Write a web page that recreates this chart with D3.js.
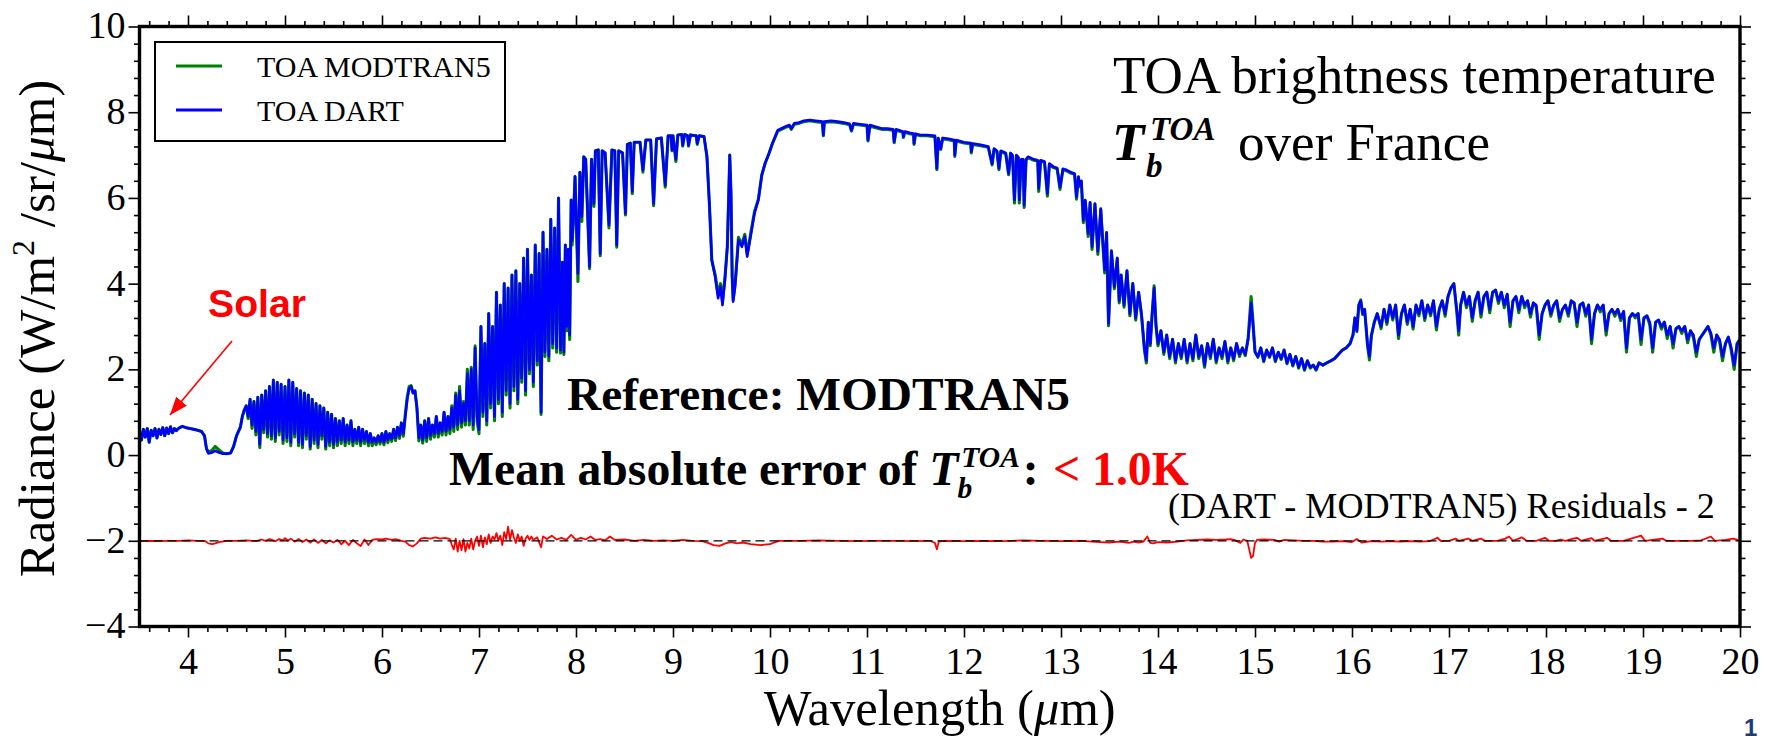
<!DOCTYPE html>
<html><head><meta charset="utf-8">
<script src="https://cdn.jsdelivr.net/npm/d3@7"></script>
<style>body{margin:0;background:#fff}svg{display:block}</style>
</head><body>
<svg id="c" width="1767" height="743"></svg>
<script>
// ---------- DATA ----------
const xTicks = [4,5,6,7,8,9,10,11,12,13,14,15,16,17,18,19,20];
const xTickLabels = ["4","5","6","7","8","9","10","11","12","13","14","15","16","17","18","19","20"];
const yTicks = [-4,-2,0,2,4,6,8,10];
const yTickLabels = ["\u22124","\u22122","0","2","4","6","8","10"];
const seriesNames = ["TOA MODTRAN5","TOA DART"];
const residualOffset = -2;

const dartSpectrum = [
[3.50,0.55],[3.52,0.35],[3.54,0.60],[3.56,0.42],[3.58,0.62],[3.60,0.30],[3.62,0.58],[3.64,0.45],[3.66,0.62],[3.68,0.40],[3.70,0.60],[3.72,0.48],[3.74,0.64],[3.76,0.45],[3.78,0.63],[3.80,0.50],[3.82,0.66],[3.84,0.52],[3.86,0.62],[3.88,0.57],[3.90,0.62],[3.94,0.67],[3.98,0.64],[4.02,0.62],[4.06,0.60],[4.10,0.58],[4.14,0.55],[4.17,0.45],[4.19,0.15],[4.21,0.04],[4.25,0.06],[4.28,0.10],[4.32,0.06],[4.36,0.03],[4.40,0.03],[4.44,0.05],[4.47,0.20],[4.50,0.45],[4.52,0.55],[4.54,0.65],[4.56,0.90],[4.58,1.05],[4.60,1.15],
[4.62,0.90],[4.64,1.30],[4.66,0.70],[4.68,1.25],[4.70,0.55],[4.72,1.35],[4.74,0.25],[4.76,1.40],[4.78,0.60],[4.80,1.50],[4.82,0.50],[4.84,1.60],[4.86,0.45],[4.88,1.75],[4.90,0.40],[4.92,1.70],[4.94,0.55],[4.96,1.65],[4.98,0.35],[5.00,1.60],[5.02,0.40],[5.04,1.75],[5.06,0.30],[5.08,1.70],[5.10,0.50],[5.12,1.55],[5.14,0.30],[5.16,1.50],[5.18,0.25],[5.20,1.45],[5.22,0.45],[5.24,1.40],[5.26,0.20],[5.28,1.30],[5.30,0.35],[5.32,1.20],[5.34,0.25],[5.36,1.15],[5.38,0.45],[5.40,1.10],[5.42,0.20],[5.44,1.00],[5.46,0.30],[5.48,0.95],[5.50,0.25],[5.52,0.85],[5.54,0.30],[5.56,0.80],[5.58,0.35],[5.60,0.85],[5.62,0.30],[5.64,0.70],[5.66,0.35],[5.68,0.80],[5.70,0.30],[5.72,0.60],[5.74,0.35],[5.76,0.65],[5.78,0.30],[5.80,0.60],[5.82,0.35],[5.84,0.55],[5.86,0.30],[5.88,0.50],[5.90,0.30],
[5.92,0.40],[5.94,0.30],[5.96,0.45],[5.98,0.32],[6.00,0.50],[6.02,0.30],[6.04,0.55],[6.06,0.35],[6.08,0.50],[6.10,0.38],[6.12,0.60],[6.14,0.40],[6.16,0.65],[6.18,0.45],[6.20,0.75],[6.22,0.50],[6.24,0.90],[6.26,1.30],[6.28,1.55],[6.30,1.60],[6.32,1.45],[6.34,1.50],[6.36,1.10],[6.38,0.40],[6.40,0.70],[6.42,0.35],[6.44,0.80],[6.46,0.40],[6.48,0.85],[6.50,0.45],[6.52,0.70],[6.54,0.50],[6.56,0.90],[6.58,0.50],[6.60,0.75],[6.62,0.55],[6.64,1.00],[6.66,0.55],[6.68,0.90],[6.70,0.60],[6.72,1.10],[6.74,0.65],[6.76,1.40],[6.78,0.70],[6.80,1.50],[6.82,0.75],[6.84,1.20],[6.86,0.80],[6.88,1.90],[6.90,0.80],[6.92,2.00],[6.94,0.70],[6.96,2.50],[6.98,0.90],
[7.00,0.60],[7.02,3.00],[7.04,1.00],[7.06,2.60],[7.08,0.80],[7.10,3.30],[7.12,1.20],[7.14,3.00],[7.16,0.90],[7.18,3.80],[7.20,1.30],[7.22,3.50],[7.24,1.00],[7.26,4.00],[7.28,1.50],[7.30,3.90],[7.32,1.20],[7.34,4.20],[7.36,1.60],[7.38,4.30],[7.40,1.30],[7.42,4.00],[7.44,1.80],[7.46,4.60],[7.48,1.50],[7.50,4.80],[7.52,2.00],[7.54,4.20],[7.56,1.70],[7.58,4.90],[7.60,2.20],[7.62,4.70],[7.64,1.00],[7.66,5.20],[7.68,2.40],[7.70,4.80],[7.72,2.30],[7.74,5.50],[7.76,2.60],[7.78,5.30],[7.80,2.50],[7.82,6.00],[7.84,2.45],
[7.86,4.50],[7.875,2.40],[7.89,4.90],[7.905,3.00],[7.92,4.80],[7.935,2.80],[7.95,5.95],[7.96,5.00],[7.975,5.60],[7.99,6.50],[8.02,4.24],[8.04,6.60],[8.06,5.56],[8.08,6.96],[8.10,6.90],[8.14,4.40],[8.16,6.90],[8.185,5.87],[8.20,7.10],[8.23,7.12],[8.25,4.70],[8.27,7.10],[8.30,7.05],[8.34,5.37],[8.37,7.12],[8.40,7.10],[8.42,4.90],[8.44,7.10],[8.48,7.05],[8.51,5.64],[8.53,7.25],[8.56,7.28],[8.58,6.15],[8.60,7.30],[8.66,7.30],[8.69,6.65],[8.72,7.35],[8.77,7.35],[8.80,5.87],[8.83,7.38],[8.88,7.40],[8.92,6.30],[8.95,7.45],[8.98,7.45],[8.99,7.12],[9.00,7.45],[9.03,6.90],[9.05,7.47],[9.09,7.48],[9.10,7.23],[9.12,7.48],[9.15,7.45],[9.16,7.23],[9.18,7.47],[9.24,7.45],[9.25,7.27],[9.27,7.45],[9.32,7.43],[9.35,6.96],[9.375,5.87],[9.40,4.55],[9.435,4.16],[9.465,3.66],[9.49,3.93],[9.51,3.50],[9.535,4.08],[9.56,4.86],[9.575,6.10],[9.585,7.00],[9.598,6.10],[9.61,4.16],[9.62,3.58],[9.64,3.93],[9.66,4.55],[9.675,5.02],[9.71,4.86],[9.74,5.10],[9.765,4.63],[9.805,5.17],[9.84,5.64],[9.88,5.95],[9.915,6.53],[9.95,6.81],[9.99,7.04],[10.025,7.27],[10.08,7.58],[10.155,7.66],[10.20,7.70],[10.22,7.62],[10.25,7.74],[10.30,7.76],[10.35,7.80],[10.41,7.82],[10.47,7.80],[10.54,7.78],[10.55,7.47],[10.56,7.78],[10.63,7.80],[10.70,7.78],[10.76,7.76],
[10.82,7.73],[10.84,7.58],[10.86,7.74],[10.93,7.72],[11.00,7.70],[11.01,7.35],[11.03,7.70],[11.09,7.66],[11.15,7.62],[11.21,7.62],[11.27,7.60],[11.28,7.31],[11.30,7.60],[11.37,7.55],[11.375,7.43],[11.39,7.55],[11.44,7.52],[11.48,7.50],[11.485,7.27],[11.50,7.50],[11.55,7.47],[11.62,7.47],[11.70,7.45],[11.72,6.69],[11.735,7.40],[11.76,7.15],[11.78,7.40],[11.84,7.38],[11.90,7.35],[11.905,7.00],[11.92,7.35],[12.00,7.30],[12.07,7.28],[12.075,7.08],[12.09,7.27],[12.17,7.24],[12.25,7.20],[12.29,6.80],[12.31,7.15],[12.34,7.10],[12.36,6.69],[12.38,7.10],[12.43,7.05],[12.46,6.57],[12.48,7.05],[12.50,7.00],[12.52,5.95],[12.54,7.00],[12.56,6.95],[12.57,5.95],[12.59,6.90],[12.61,6.90],[12.62,5.83],[12.64,6.90],[12.66,6.96],[12.72,6.90],[12.76,6.88],[12.77,6.22],[12.79,6.88],[12.83,6.85],[12.86,6.10],[12.88,6.80],[12.92,6.73],[12.96,6.70],[12.99,6.25],[13.02,6.68],[13.06,6.65],[13.10,6.60],[13.14,6.57],[13.16,6.03],[13.18,6.50],[13.19,6.30],[13.21,6.40],[13.23,5.48],[13.25,5.95],[13.28,5.17],[13.30,5.90],[13.32,4.86],[13.35,5.87],[13.38,4.75],[13.41,5.75],[13.45,4.32],[13.47,5.20],[13.49,3.07],[13.52,4.77],[13.55,3.93],[13.58,4.60],
[13.60,3.60],[13.62,4.20],[13.65,3.50],[13.68,4.30],[13.71,3.30],[13.74,4.00],[13.77,3.20],[13.80,3.80],[13.83,3.30],[13.86,2.50],[13.88,2.20],[13.90,3.10],[13.92,2.60],[13.94,3.30],[13.96,3.90],[13.98,3.00],[14.00,2.60],[14.03,2.90],[14.06,2.40],[14.09,2.80],[14.12,2.30],[14.15,2.70],[14.18,2.20],[14.21,2.60],[14.24,2.30],[14.27,2.70],[14.30,2.20],[14.33,2.60],[14.36,2.25],[14.39,2.80],[14.42,2.30],[14.45,2.55],[14.48,2.10],[14.51,2.60],[14.54,2.30],[14.57,2.70],[14.60,2.20],[14.63,2.50],[14.66,2.30],[14.69,2.65],[14.72,2.20],[14.75,2.50],[14.78,2.25],[14.81,2.60],[14.84,2.35],[14.87,2.50],[14.90,2.35],[14.93,2.70],[14.96,3.55],[14.98,3.00],[15.00,2.40],[15.03,2.30],[15.06,2.50],[15.09,2.20],[15.12,2.45],[15.15,2.30],[15.18,2.50],[15.21,2.20],[15.24,2.40],[15.27,2.25],[15.30,2.45],[15.33,2.15],[15.36,2.35],[15.39,2.10],[15.42,2.30],[15.45,2.05],[15.48,2.25],[15.51,2.00],[15.54,2.20],[15.57,2.05],[15.60,2.10],[15.63,2.00],[15.66,2.15],[15.70,2.10],[15.74,2.15],[15.78,2.20],[15.82,2.25],[15.86,2.35],[15.90,2.45],[15.94,2.50],[15.98,2.60],[16.01,2.80],[16.03,3.20],[16.05,2.90],[16.07,3.50],[16.09,3.60],[16.11,3.30],[16.13,3.40],[16.16,2.60],[16.18,2.30],[16.20,2.80],[16.23,3.10],[16.26,3.30],
[16.30,3.00],[16.33,3.40],[16.36,3.10],[16.39,3.50],[16.42,3.20],[16.45,3.50],[16.48,2.80],[16.51,3.30],[16.54,3.50],[16.57,3.10],[16.60,3.40],[16.63,3.00],[16.66,3.50],[16.69,3.30],[16.72,3.60],[16.75,3.20],[16.78,3.50],[16.81,3.30],[16.84,3.60],[16.87,3.00],[16.90,3.40],[16.93,3.60],[16.96,3.30],[16.99,3.70],[17.02,3.90],[17.05,4.00],[17.08,3.40],[17.10,2.90],[17.12,3.50],[17.15,3.80],[17.18,3.50],[17.21,3.70],[17.24,3.20],[17.27,3.60],[17.30,3.80],[17.33,3.30],[17.36,3.70],[17.39,3.80],[17.42,3.40],[17.45,3.80],[17.48,3.85],[17.51,3.60],[17.54,3.80],[17.57,3.50],[17.60,3.75],[17.63,3.10],[17.66,3.60],[17.69,3.70],[17.72,3.40],[17.75,3.70],[17.78,3.50],[17.81,3.60],[17.84,3.30],[17.87,3.55],[17.90,3.50],[17.93,2.80],[17.96,3.30],[17.99,3.50],[18.02,3.60],[18.05,3.30],[18.08,3.50],[18.11,3.60],[18.14,3.20],[18.17,3.40],[18.20,3.50],[18.23,3.30],[18.26,3.60],[18.29,3.55],[18.32,3.10],[18.35,3.50],[18.38,3.55],[18.41,3.30],[18.44,3.50],[18.47,2.70],[18.50,3.30],[18.53,3.50],[18.56,3.40],[18.59,3.50],[18.62,2.90],[18.65,3.30],[18.68,3.40],[18.71,3.30],[18.74,3.40],[18.77,3.20],[18.80,3.35],[18.83,2.50],[18.86,3.20],[18.89,3.30],[18.92,3.25],[18.95,3.30],[18.98,2.70],[19.01,3.20],[19.04,3.25],[19.07,3.10],[19.10,2.50],[19.13,3.10],[19.16,3.15],[19.19,3.00],[19.22,3.10],[19.25,2.80],[19.28,3.00],[19.31,2.60],[19.34,2.95],[19.37,3.00],[19.40,2.90],[19.43,3.00],[19.46,2.70],[19.49,2.90],[19.52,2.80],[19.55,2.40],[19.58,2.70],[19.61,2.80],[19.64,2.90],[19.67,3.00],[19.70,2.85],[19.73,2.50],[19.76,2.80],[19.79,2.70],[19.82,2.30],[19.85,2.60],[19.88,2.75],[19.91,2.50],[19.94,2.10],[19.97,2.60],[20.00,2.70]
];

const modtranSpectrum = [
[3.50,0.55],[3.52,0.35],[3.54,0.60],[3.56,0.42],[3.58,0.62],[3.60,0.30],[3.62,0.58],[3.64,0.45],[3.66,0.62],[3.68,0.40],[3.70,0.60],[3.72,0.48],[3.74,0.64],[3.76,0.45],[3.78,0.63],[3.80,0.50],[3.82,0.66],[3.84,0.52],[3.86,0.62],[3.88,0.57],[3.90,0.62],[3.94,0.67],[3.98,0.64],[4.02,0.62],[4.06,0.60],[4.10,0.58],[4.14,0.55],[4.17,0.45],[4.19,0.16],[4.21,0.06],[4.25,0.12],[4.28,0.20],[4.32,0.12],[4.36,0.05],[4.40,0.03],[4.44,0.05],[4.47,0.20],[4.50,0.45],[4.52,0.55],[4.54,0.65],[4.56,0.90],[4.58,1.05],[4.60,1.15],
[4.62,0.85],[4.64,1.30],[4.66,0.62],[4.68,1.25],[4.70,0.47],[4.72,1.35],[4.74,0.17],[4.76,1.40],[4.78,0.52],[4.80,1.50],[4.82,0.42],[4.84,1.60],[4.86,0.37],[4.88,1.75],[4.90,0.32],[4.92,1.70],[4.94,0.47],[4.96,1.65],[4.98,0.27],[5.00,1.60],[5.02,0.32],[5.04,1.75],[5.06,0.22],[5.08,1.70],[5.10,0.42],[5.12,1.55],[5.14,0.22],[5.16,1.50],[5.18,0.17],[5.20,1.45],[5.22,0.37],[5.24,1.40],[5.26,0.14],[5.28,1.30],[5.30,0.27],[5.32,1.20],[5.34,0.17],[5.36,1.15],[5.38,0.37],[5.40,1.10],[5.42,0.14],[5.44,1.00],[5.46,0.22],[5.48,0.95],[5.50,0.17],[5.52,0.85],[5.54,0.22],[5.56,0.80],[5.58,0.27],[5.60,0.85],[5.62,0.22],[5.64,0.70],[5.66,0.27],[5.68,0.80],[5.70,0.22],[5.72,0.60],[5.74,0.27],[5.76,0.65],[5.78,0.22],[5.80,0.60],[5.82,0.27],[5.84,0.55],[5.86,0.22],[5.88,0.50],[5.90,0.22],
[5.92,0.40],[5.94,0.24],[5.96,0.45],[5.98,0.26],[6.00,0.50],[6.02,0.24],[6.04,0.55],[6.06,0.29],[6.08,0.50],[6.10,0.32],[6.12,0.60],[6.14,0.34],[6.16,0.65],[6.18,0.39],[6.20,0.75],[6.22,0.44],[6.24,0.95],[6.26,1.35],[6.28,1.60],[6.30,1.62],[6.32,1.45],[6.34,1.50],[6.36,1.10],[6.38,0.33],[6.40,0.70],[6.42,0.28],[6.44,0.80],[6.46,0.32],[6.48,0.85],[6.50,0.37],[6.52,0.70],[6.54,0.42],[6.56,0.90],[6.58,0.42],[6.60,0.75],[6.62,0.47],[6.64,1.00],[6.66,0.47],[6.68,0.90],[6.70,0.50],[6.72,1.15],[6.74,0.55],[6.76,1.45],[6.78,0.60],[6.80,1.60],[6.82,0.65],[6.84,1.25],[6.86,0.70],[6.88,2.00],[6.90,0.70],[6.92,2.05],[6.94,0.60],[6.96,2.55],[6.98,0.80],
[7.00,0.50],[7.02,3.00],[7.04,0.90],[7.06,2.60],[7.08,0.70],[7.10,3.30],[7.12,1.10],[7.14,3.00],[7.16,0.80],[7.18,3.80],[7.20,1.20],[7.22,3.50],[7.24,0.90],[7.26,4.00],[7.28,1.40],[7.30,3.90],[7.32,1.10],[7.34,4.20],[7.36,1.50],[7.38,4.30],[7.40,1.20],[7.42,4.00],[7.44,1.70],[7.46,4.60],[7.48,1.40],[7.50,4.80],[7.52,1.90],[7.54,4.20],[7.56,1.60],[7.58,4.90],[7.60,2.10],[7.62,4.70],[7.64,0.95],[7.66,5.20],[7.68,2.30],[7.70,4.80],[7.72,2.20],[7.74,5.50],[7.76,2.50],[7.78,5.30],[7.80,2.40],[7.82,6.00],[7.84,2.38],
[7.86,4.50],[7.875,2.35],[7.89,4.90],[7.905,2.90],[7.92,4.80],[7.935,2.70],[7.95,5.95],[7.96,4.90],[7.975,5.60],[7.99,6.50],[8.02,4.05],[8.04,6.60],[8.06,5.45],[8.08,6.96],[8.10,6.90],[8.14,4.35],[8.16,6.90],[8.185,5.80],[8.20,7.10],[8.23,7.12],[8.25,4.65],[8.27,7.10],[8.30,7.05],[8.34,5.30],[8.37,7.12],[8.40,7.10],[8.42,4.85],[8.44,7.10],[8.48,7.05],[8.51,5.60],[8.53,7.25],[8.56,7.28],[8.58,6.10],[8.60,7.30],[8.66,7.30],[8.69,6.60],[8.72,7.35],[8.77,7.35],[8.80,5.82],[8.83,7.38],[8.88,7.40],[8.92,6.25],[8.95,7.45],[8.98,7.45],[8.99,7.10],[9.00,7.45],[9.03,6.85],[9.05,7.47],[9.09,7.48],[9.10,7.21],[9.12,7.48],[9.15,7.45],[9.16,7.21],[9.18,7.47],[9.24,7.45],[9.25,7.25],[9.27,7.45],[9.32,7.43],[9.35,6.96],[9.375,5.87],[9.40,4.55],[9.435,4.20],[9.465,3.75],[9.49,4.00],[9.51,3.60],[9.535,4.12],[9.56,4.86],[9.575,6.10],[9.585,7.00],[9.598,6.10],[9.61,4.16],[9.62,3.62],[9.64,4.00],[9.66,4.60],[9.675,5.08],[9.71,4.92],[9.74,5.15],[9.765,4.70],[9.805,5.22],[9.84,5.68],[9.88,5.97],[9.915,6.53],[9.95,6.81],[9.99,7.04],[10.025,7.27],[10.08,7.56],[10.155,7.64],[10.20,7.68],[10.22,7.60],[10.25,7.72],[10.30,7.74],[10.35,7.78],[10.41,7.80],[10.47,7.78],[10.54,7.76],[10.55,7.45],[10.56,7.76],[10.63,7.78],[10.70,7.76],[10.76,7.74],
[10.82,7.71],[10.84,7.56],[10.86,7.72],[10.93,7.70],[11.00,7.68],[11.01,7.33],[11.03,7.68],[11.09,7.64],[11.15,7.60],[11.21,7.60],[11.27,7.58],[11.28,7.29],[11.30,7.58],[11.37,7.53],[11.375,7.41],[11.39,7.53],[11.44,7.50],[11.48,7.48],[11.485,7.25],[11.50,7.48],[11.55,7.45],[11.62,7.45],[11.70,7.43],[11.72,6.66],[11.735,7.38],[11.76,7.13],[11.78,7.38],[11.84,7.36],[11.90,7.33],[11.905,6.97],[11.92,7.33],[12.00,7.28],[12.07,7.26],[12.075,7.05],[12.09,7.25],[12.17,7.22],[12.25,7.18],[12.29,6.77],[12.31,7.13],[12.34,7.08],[12.36,6.66],[12.38,7.08],[12.43,7.03],[12.46,6.54],[12.48,7.03],[12.50,6.98],[12.52,5.88],[12.54,6.98],[12.56,6.93],[12.57,5.88],[12.59,6.88],[12.61,6.88],[12.62,5.78],[12.64,6.88],[12.66,6.94],[12.72,6.88],[12.76,6.86],[12.77,6.15],[12.79,6.86],[12.83,6.83],[12.86,6.04],[12.88,6.78],[12.92,6.71],[12.96,6.68],[12.99,6.20],[13.02,6.66],[13.06,6.63],[13.10,6.58],[13.14,6.55],[13.16,5.97],[13.18,6.48],[13.19,6.26],[13.21,6.38],[13.23,5.42],[13.25,5.93],[13.28,5.10],[13.30,5.88],[13.32,4.80],[13.35,5.85],[13.38,4.68],[13.41,5.73],[13.45,4.25],[13.47,5.18],[13.49,3.02],[13.52,4.75],[13.55,3.88],[13.58,4.58],
[13.60,3.55],[13.62,4.20],[13.65,3.45],[13.68,4.30],[13.71,3.25],[13.74,4.00],[13.77,3.15],[13.80,3.80],[13.83,3.25],[13.86,2.45],[13.88,2.15],[13.90,3.10],[13.92,2.55],[13.94,3.30],[13.96,3.95],[13.98,3.00],[14.00,2.55],[14.03,2.90],[14.06,2.35],[14.09,2.80],[14.12,2.25],[14.15,2.70],[14.18,2.15],[14.21,2.60],[14.24,2.25],[14.27,2.70],[14.30,2.15],[14.33,2.60],[14.36,2.20],[14.39,2.80],[14.42,2.25],[14.45,2.55],[14.48,2.05],[14.51,2.60],[14.54,2.25],[14.57,2.70],[14.60,2.15],[14.63,2.50],[14.66,2.25],[14.69,2.65],[14.72,2.15],[14.75,2.50],[14.78,2.20],[14.81,2.60],[14.84,2.30],[14.87,2.50],[14.90,2.32],[14.93,2.75],[14.96,3.70],[14.98,3.10],[15.00,2.42],[15.03,2.28],[15.06,2.50],[15.09,2.18],[15.12,2.45],[15.15,2.28],[15.18,2.50],[15.21,2.18],[15.24,2.40],[15.27,2.23],[15.30,2.45],[15.33,2.13],[15.36,2.35],[15.39,2.08],[15.42,2.30],[15.45,2.03],[15.48,2.25],[15.51,1.98],[15.54,2.20],[15.57,2.03],[15.60,2.10],[15.63,1.98],[15.66,2.15],[15.70,2.10],[15.74,2.15],[15.78,2.20],[15.82,2.25],[15.86,2.35],[15.90,2.45],[15.94,2.50],[15.98,2.60],[16.01,2.80],[16.03,3.20],[16.05,2.88],[16.07,3.50],[16.09,3.62],[16.11,3.28],[16.13,3.40],[16.16,2.55],[16.18,2.22],[16.20,2.78],[16.23,3.10],[16.26,3.30],
[16.30,2.95],[16.33,3.40],[16.36,3.05],[16.39,3.50],[16.42,3.15],[16.45,3.50],[16.48,2.72],[16.51,3.30],[16.54,3.50],[16.57,3.05],[16.60,3.40],[16.63,2.94],[16.66,3.50],[16.69,3.25],[16.72,3.60],[16.75,3.14],[16.78,3.50],[16.81,3.25],[16.84,3.60],[16.87,2.92],[16.90,3.40],[16.93,3.60],[16.96,3.24],[16.99,3.70],[17.02,3.90],[17.05,4.00],[17.08,3.34],[17.10,2.80],[17.12,3.50],[17.15,3.80],[17.18,3.44],[17.21,3.70],[17.24,3.12],[17.27,3.60],[17.30,3.80],[17.33,3.22],[17.36,3.70],[17.39,3.80],[17.42,3.32],[17.45,3.80],[17.48,3.85],[17.51,3.54],[17.54,3.80],[17.57,3.44],[17.60,3.75],[17.63,3.00],[17.66,3.60],[17.69,3.70],[17.72,3.32],[17.75,3.70],[17.78,3.44],[17.81,3.60],[17.84,3.22],[17.87,3.55],[17.90,3.45],[17.93,2.70],[17.96,3.30],[17.99,3.50],[18.02,3.60],[18.05,3.24],[18.08,3.50],[18.11,3.60],[18.14,3.12],[18.17,3.40],[18.20,3.50],[18.23,3.24],[18.26,3.60],[18.29,3.55],[18.32,3.00],[18.35,3.50],[18.38,3.55],[18.41,3.24],[18.44,3.50],[18.47,2.60],[18.50,3.30],[18.53,3.50],[18.56,3.34],[18.59,3.50],[18.62,2.80],[18.65,3.30],[18.68,3.40],[18.71,3.24],[18.74,3.40],[18.77,3.14],[18.80,3.35],[18.83,2.40],[18.86,3.20],[18.89,3.30],[18.92,3.20],[18.95,3.30],[18.98,2.58],[19.01,3.20],[19.04,3.25],[19.07,3.04],[19.10,2.40],[19.13,3.10],[19.16,3.15],[19.19,2.94],[19.22,3.10],[19.25,2.72],[19.28,3.00],[19.31,2.50],[19.34,2.95],[19.37,3.00],[19.40,2.84],[19.43,3.00],[19.46,2.62],[19.49,2.90],[19.52,2.74],[19.55,2.30],[19.58,2.70],[19.61,2.80],[19.64,2.90],[19.67,3.00],[19.70,2.80],[19.73,2.40],[19.76,2.80],[19.79,2.64],[19.82,2.20],[19.85,2.60],[19.88,2.75],[19.91,2.44],[19.94,2.00],[19.97,2.60],[20.00,2.70]
];

const residualSeries = [
[3.50,-2.01],[3.60,-2.00],[3.70,-2.01],[3.80,-2.00],[3.90,-2.00],[4.00,-1.99],[4.10,-2.00],[4.18,-2.01],[4.21,-2.06],[4.25,-2.08],[4.28,-2.06],[4.32,-2.03],[4.40,-2.00],[4.50,-2.00],[4.60,-1.99],[4.70,-2.01],[4.76,-1.97],[4.80,-2.00],[4.84,-1.96],[4.90,-2.01],[4.94,-1.96],[4.98,-1.99],[5.00,-1.94],[5.03,-2.00],[5.06,-1.95],[5.10,-2.02],[5.14,-1.96],[5.18,-2.03],[5.22,-1.97],[5.26,-2.04],[5.30,-1.97],[5.34,-2.05],[5.38,-1.98],[5.42,-2.06],[5.46,-1.99],[5.50,-2.04],[5.54,-1.98],[5.58,-2.08],[5.62,-2.00],[5.66,-2.10],[5.70,-1.98],[5.74,-2.06],[5.78,-2.12],[5.82,-1.97],[5.86,-2.10],[5.90,-1.98],[5.94,-1.96],[6.00,-1.97],[6.04,-1.95],[6.10,-1.98],[6.14,-1.96],[6.20,-2.00],[6.24,-2.02],[6.28,-2.10],[6.32,-2.13],[6.36,-2.06],[6.40,-1.95],[6.44,-1.93],[6.50,-1.95],[6.55,-1.92],[6.60,-1.95],[6.65,-1.93],[6.70,-1.96],[6.72,-2.10],[6.74,-2.20],[6.76,-1.95],[6.78,-2.25],[6.80,-2.00],[6.82,-2.22],[6.84,-1.96],[6.86,-2.25],[6.88,-2.05],[6.90,-2.18],[6.92,-1.95],[6.94,-2.20],[6.96,-2.00],[6.98,-1.90],[7.00,-2.12],[7.02,-1.88],[7.04,-2.15],[7.06,-1.92],[7.08,-2.08],[7.10,-1.85],[7.12,-2.05],[7.14,-1.90],[7.16,-1.97],[7.18,-1.82],[7.20,-2.00],[7.22,-1.88],[7.24,-2.10],[7.26,-1.80],[7.28,-1.96],[7.30,-1.67],[7.32,-1.98],[7.34,-1.75],[7.36,-1.93],[7.38,-2.05],[7.40,-1.85],[7.42,-2.00],[7.44,-1.90],[7.46,-2.12],[7.48,-1.95],[7.50,-1.88],[7.52,-1.98],[7.54,-1.90],[7.56,-1.98],[7.60,-1.92],[7.64,-2.15],[7.66,-1.90],[7.70,-1.96],[7.75,-1.88],[7.80,-1.97],[7.85,-1.93],[7.90,-1.98],[7.95,-1.86],[8.00,-1.98],[8.05,-1.93],[8.10,-1.97],[8.15,-1.90],[8.20,-1.98],[8.25,-1.96],[8.30,-1.99],[8.35,-1.90],[8.40,-1.98],[8.50,-1.97],[8.60,-2.00],[8.70,-1.98],[8.80,-2.00],[8.90,-1.99],[9.00,-2.00],[9.10,-1.98],[9.20,-2.00],[9.30,-2.01],[9.36,-2.05],[9.42,-2.10],[9.48,-2.12],[9.54,-2.06],[9.60,-2.03],[9.66,-2.06],[9.72,-2.04],[9.80,-2.08],[9.90,-2.10],[10.00,-2.08],[10.05,-2.03],[10.10,-2.00],[10.30,-2.00],[10.50,-1.99],[10.70,-2.00],[10.90,-2.01],[11.10,-2.00],[11.30,-2.00],[11.50,-2.01],[11.65,-2.00],[11.70,-2.05],[11.72,-2.20],[11.74,-2.02],[11.80,-2.00],[12.00,-2.01],[12.20,-2.00],[12.40,-2.01],[12.60,-1.99],[12.80,-2.00],[13.00,-2.01],[13.20,-2.00],[13.40,-2.03],[13.50,-2.04],[13.60,-2.02],[13.70,-2.05],[13.75,-2.02],[13.80,-2.04],[13.85,-2.02],[13.89,-1.90],[13.92,-2.05],[13.95,-2.06],[14.00,-2.03],[14.10,-2.04],[14.20,-2.02],[14.30,-1.99],[14.40,-1.98],[14.50,-1.97],[14.60,-1.98],[14.70,-1.97],[14.75,-1.96],[14.80,-1.99],[14.85,-2.05],[14.88,-1.97],[14.92,-2.00],[14.94,-2.20],[14.96,-2.40],[14.98,-2.35],[15.00,-2.05],[15.02,-1.98],[15.10,-1.97],[15.20,-1.98],[15.25,-2.02],[15.30,-1.98],[15.40,-1.99],[15.50,-2.00],[15.60,-2.00],[15.70,-2.02],[15.80,-2.02],[15.90,-2.01],[16.00,-2.03],[16.05,-1.96],[16.10,-2.04],[16.20,-2.01],[16.30,-2.02],[16.40,-2.01],[16.50,-2.02],[16.60,-2.01],[16.70,-2.02],[16.80,-2.01],[16.88,-1.93],[16.92,-2.01],[17.00,-2.00],[17.07,-1.95],[17.10,-2.00],[17.20,-1.95],[17.24,-2.00],[17.33,-1.95],[17.37,-2.00],[17.50,-2.00],[17.58,-1.95],[17.62,-1.90],[17.66,-2.00],[17.75,-1.92],[17.80,-2.00],[17.90,-2.00],[17.99,-1.93],[18.03,-2.00],[18.10,-2.00],[18.15,-1.97],[18.20,-2.00],[18.28,-1.95],[18.32,-1.93],[18.36,-2.00],[18.47,-1.94],[18.50,-2.00],[18.63,-1.93],[18.67,-2.00],[18.80,-2.00],[18.98,-1.88],[19.02,-2.00],[19.20,-1.95],[19.24,-2.00],[19.40,-2.00],[19.50,-2.00],[19.60,-1.99],[19.70,-1.90],[19.74,-2.00],[19.85,-1.98],[19.93,-1.95],[20.00,-2.00]
];

// ---------- CHART ----------
const SERIF = "'Liberation Serif','Times New Roman',serif";
const SANS = "'Liberation Sans',Arial,sans-serif";
const svg = d3.select("#c");
svg.append("rect").attr("width",1767).attr("height",743).attr("fill","#fff");
const defs = svg.append("defs");
const M = {left:139.5, right:1740, top:26.5, bottom:626.5};
const x = d3.scaleLinear().domain([3.5,20]).range([M.left,M.right]);
const y = d3.scaleLinear().domain([-4,10]).range([M.bottom,M.top]);

const xMinor = d3.range(36,200,2).map(v=>v/10).filter(v=>Math.abs(v-Math.round(v))>1e-6);
const yMinor = d3.range(-40,101,4).map(v=>v/10).filter(v=>Math.abs(v/2-Math.round(v/2))>1e-6);

function styleAxis(g){
  g.select(".domain").remove();
  g.selectAll(".tick line").attr("stroke","#000").attr("stroke-width",1.6);
  g.selectAll("text").attr("fill","#000").style("font-family",SERIF).style("font-size","38px");
}
const gB = svg.append("g").attr("transform",`translate(0,${M.bottom})`)
  .call(d3.axisBottom(x).tickValues(xTicks).tickSize(11).tickFormat((d,i)=>xTickLabels[i]));
styleAxis(gB); gB.selectAll("text").attr("y",47).attr("dy",null);
const gT = svg.append("g").attr("transform",`translate(0,${M.top})`)
  .call(d3.axisTop(x).tickValues(xTicks).tickSize(11).tickFormat(""));
styleAxis(gT);
const gL = svg.append("g").attr("transform",`translate(${M.left},0)`)
  .call(d3.axisLeft(y).tickValues(yTicks).tickSize(11).tickPadding(3).tickFormat((d,i)=>yTickLabels[i]));
styleAxis(gL); gL.selectAll("text").attr("dy","0.30em");
const gR = svg.append("g").attr("transform",`translate(${M.right},0)`)
  .call(d3.axisRight(y).tickValues(yTicks).tickSize(11).tickFormat(""));
styleAxis(gR);
[[d3.axisBottom(x),M.bottom,true,xMinor],[d3.axisTop(x),M.top,true,xMinor],
 [d3.axisLeft(y),M.left,false,yMinor],[d3.axisRight(y),M.right,false,yMinor]].forEach(([ax,pos,horiz,vals])=>{
  const g = svg.append("g").attr("transform", horiz?`translate(0,${pos})`:`translate(${pos},0)`)
    .call(ax.tickValues(vals).tickSize(5.5).tickFormat(""));
  styleAxis(g);
});

defs.append("clipPath").attr("id","plotclip").append("rect")
  .attr("x",M.left).attr("y",M.top).attr("width",M.right-M.left).attr("height",M.bottom-M.top);
const line = d3.line().x(d=>x(d[0])).y(d=>y(d[1]));
const plot = svg.append("g").attr("clip-path","url(#plotclip)");
plot.append("path").datum(modtranSpectrum).attr("d",line).attr("fill","none")
  .attr("stroke","#008000").attr("stroke-width",3.1).attr("stroke-linejoin","round");
plot.append("path").datum(dartSpectrum).attr("d",line).attr("fill","none")
  .attr("stroke","#0000FF").attr("stroke-width",2.6).attr("stroke-linejoin","round");
plot.append("path").datum(residualSeries).attr("d",line).attr("fill","none")
  .attr("stroke","#FF0000").attr("stroke-width",1.8).attr("stroke-linejoin","round");
plot.append("line").attr("x1",x(3.5)).attr("x2",x(20)).attr("y1",y(residualOffset)).attr("y2",y(residualOffset))
  .attr("stroke","#000").attr("stroke-width",1.3).attr("stroke-dasharray","9,5");

svg.append("rect").attr("x",M.left).attr("y",M.top).attr("width",M.right-M.left).attr("height",M.bottom-M.top)
  .attr("fill","none").attr("stroke","#000").attr("stroke-width",3.4);

function fit(sel, width){
  const w = sel.node().getComputedTextLength();
  const fs = parseFloat(sel.style("font-size"));
  sel.style("font-size", (fs*width/w).toFixed(2)+"px");
  return sel;
}

// axis titles
const xt = svg.append("text").attr("x",(M.left+M.right)/2).attr("y",725).attr("text-anchor","middle")
  .style("font-family",SERIF).style("font-size","50px");
xt.append("tspan").text("Wavelength (");xt.append("tspan").attr("font-style","italic").text("\u03BC");xt.append("tspan").text("m)");
fit(xt, 352);

const yt = svg.append("text").attr("transform",`translate(54,${(M.top+M.bottom)/2+2}) rotate(-90)`).attr("text-anchor","middle")
  .style("font-family",SERIF).style("font-size","51px");
yt.append("tspan").text("Radiance (W/m");
yt.append("tspan").attr("dy",-20).style("font-size","32px").text("2");
yt.append("tspan").attr("dy",20).text("\u00A0/sr/");
yt.append("tspan").attr("font-style","italic").text("\u03BC");
yt.append("tspan").text("m)");

// legend
const lg = svg.append("g");
lg.append("rect").attr("x",155).attr("y",42).attr("width",350).attr("height",99)
  .attr("fill","#fff").attr("stroke","#000").attr("stroke-width",2);
const legColors = ["#008000","#0000FF"];
seriesNames.forEach((n,i)=>{
  const yy = 66 + i*44;
  lg.append("line").attr("x1",176).attr("x2",222).attr("y1",yy).attr("y2",yy).attr("stroke",legColors[i]).attr("stroke-width",3);
  lg.append("text").attr("x",257).attr("y",yy+11).style("font-family",SERIF).style("font-size","30px").text(n);
});

// title top right
fit(svg.append("text").attr("x",1113).attr("y",93).style("font-family",SERIF).style("font-size","51px")
  .text("TOA brightness temperature"), 603);
svg.append("text").attr("x",1112).attr("y",160).style("font-family",SERIF).style("font-size","53px")
  .attr("font-weight","bold").attr("font-style","italic").text("T");
svg.append("text").attr("x",1150).attr("y",140).style("font-family",SERIF).style("font-size","33px")
  .attr("font-weight","bold").attr("font-style","italic").text("TOA");
svg.append("text").attr("x",1146).attr("y",177).style("font-family",SERIF).style("font-size","33px")
  .attr("font-weight","bold").attr("font-style","italic").text("b");
fit(svg.append("text").attr("x",1238).attr("y",160).style("font-family",SERIF).style("font-size","51px").text("over France"), 252);

// center annotations
fit(svg.append("text").attr("x",567).attr("y",410).style("font-family",SERIF).style("font-size","48px")
  .attr("font-weight","bold").text("Reference: MODTRAN5"), 503);

function meanLine(F){
  const g = svg.append("g").style("font-family",SERIF).attr("font-weight","bold");
  const x0 = 449, base = 485, s = 0.62;
  const t1 = g.append("text").attr("x",x0).attr("y",base).style("font-size",F+"px").text("Mean absolute error of");
  let xx = x0 + t1.node().getComputedTextLength() + F*0.25;
  const tT = g.append("text").attr("x",xx).attr("y",base).style("font-size",F+"px").attr("font-style","italic").text("T");
  const tEnd = xx + tT.node().getComputedTextLength();
  const sup = g.append("text").attr("x",tEnd+F*0.06).attr("y",base-F*0.38).style("font-size",(F*s)+"px").attr("font-style","italic").text("TOA");
  g.append("text").attr("x",tEnd-F*0.02).attr("y",base+F*0.28).style("font-size",(F*s)+"px").attr("font-style","italic").text("b");
  xx = tEnd+F*0.06 + sup.node().getComputedTextLength() + F*0.06;
  const col = g.append("text").attr("x",xx).attr("y",base).style("font-size",F+"px").text(":");
  xx += col.node().getComputedTextLength() + F*0.3;
  const red = g.append("text").attr("x",xx).attr("y",base).style("font-size",F+"px").attr("fill","#FF0000").text("< 1.0K");
  return {g, end: xx + red.node().getComputedTextLength()};
}
let ml = meanLine(48);
const Fm = 48*(1189-449)/(ml.end-449);
ml.g.remove();
meanLine(Fm);

// residual label
fit(svg.append("text").attr("x",1168).attr("y",518).style("font-family",SERIF)
  .style("font-size","36px").text("(DART - MODTRAN5) Residuals - 2"), 547);

// Solar annotation
defs.append("marker").attr("id","arr").attr("markerUnits","userSpaceOnUse").attr("markerWidth",20).attr("markerHeight",16)
  .attr("refX",18).attr("refY",7).attr("orient","auto")
  .append("path").attr("d","M0,0 L18,7 L0,14 Z").attr("fill","#FF0000");
svg.append("line").attr("x1",232).attr("y1",341).attr("x2",170).attr("y2",415)
  .attr("stroke","#FF0000").attr("stroke-width",1.6).attr("marker-end","url(#arr)");
fit(svg.append("text").attr("x",208).attr("y",317).style("font-family",SANS)
  .style("font-size","38px").attr("font-weight","bold").attr("fill","#FF0000").text("Solar"), 98);

// page number
svg.append("text").attr("x",1744).attr("y",736).style("font-family",SANS)
  .style("font-size","24px").attr("font-weight","bold").attr("fill","#1F3A7A").text("1");
</script>
</body></html>
